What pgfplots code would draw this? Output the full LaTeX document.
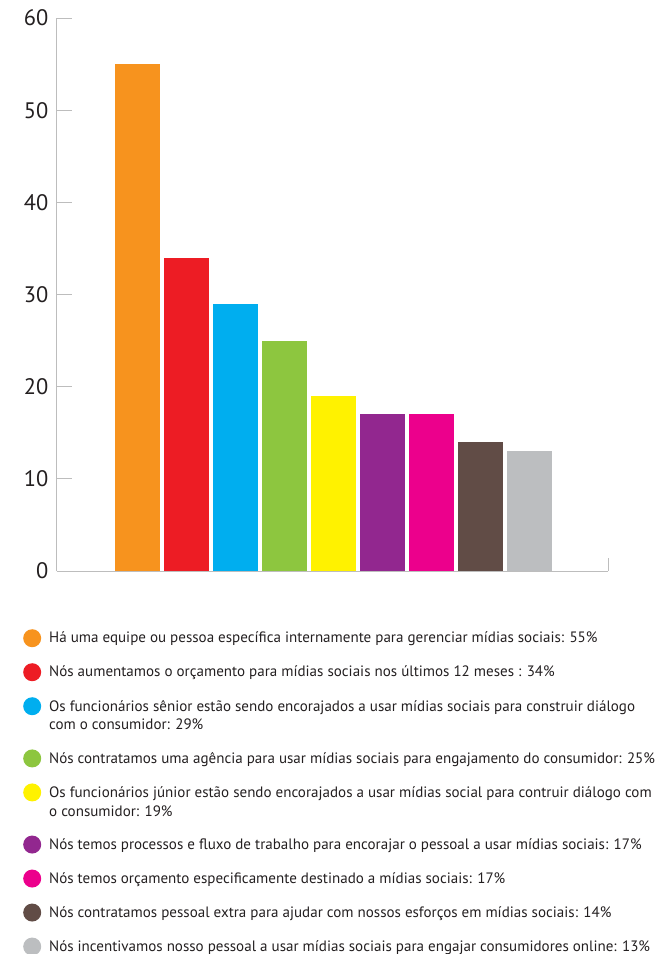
\documentclass[border=0pt]{standalone}
\usepackage{pgfplots}
\pgfplotsset{compat=1.18}
\usepackage{fontspec}
\setmainfont{PT Sans}
\definecolor{cOrange}{HTML}{F7931E}
\definecolor{cRed}{HTML}{ED1C24}
\definecolor{cCyan}{HTML}{00AEEF}
\definecolor{cGreen}{HTML}{8DC63F}
\definecolor{cYellow}{HTML}{FFF200}
\definecolor{cPurple}{HTML}{92278F}
\definecolor{cMagenta}{HTML}{EC008C}
\definecolor{cBrown}{HTML}{614C46}
\definecolor{cGray}{HTML}{BCBEC0}
\definecolor{axgray}{HTML}{BDBDBD}
\definecolor{txt}{HTML}{231F20}
\pgfplotsset{
  circ/.style={legend image code/.code={\fill[#1] (0bp,0bp) circle (9bp);}},
  circtwo/.style={legend image code/.code={\fill[#1] (0bp,9.5bp) circle (9bp);}},
}
\begin{document}
\begin{tikzpicture}
\useasboundingbox (0,0) rectangle (663bp,-954bp);
\begin{axis}[
  at={(57bp,-571bp)}, anchor=south west,
  scale only axis, width=551bp, height=553bp,
  ybar, bar width=45bp, bar shift=0pt,
  xmin=-0.643, xmax=10.602, ymin=0, ymax=60,
  axis x line*=bottom, axis y line*=left,
  axis line style={draw=axgray, line width=1bp},
  xtick=\empty,
  ytick={0,10,20,30,40,50,60},
  tick align=inside, major tick length=15bp,
  tick style={draw=axgray, line width=1bp},
  /pgf/number format/assume math mode=true,
  yticklabel style={font=\fontsize{22.5}{22.5}\selectfont, text=txt, inner sep=0pt, xshift=-8.5bp},
  legend style={at={(-0.0617,-0.1049)}, anchor=north west, draw=none, fill=none,
    inner sep=0pt, font=\fontsize{15.1}{19}\selectfont, text=txt,
    row sep=16bp, column sep=6bp,
    cells={anchor=west, align=left, inner sep=0pt}},
  clip=false,
]
\addplot[fill=cOrange, draw=none, circ=cOrange] coordinates {(1,55)};
\addlegendentry{Há uma equipe ou pessoa específica internamente para gerenciar mídias sociais: 55\%}
\addplot[fill=cRed, draw=none, circ=cRed] coordinates {(2,34)};
\addlegendentry{Nós aumentamos o orçamento para mídias sociais nos últimos 12 meses : 34\%}
\addplot[fill=cCyan, draw=none, circtwo=cCyan] coordinates {(3,29)};
\addlegendentry{Os funcionários sênior estão sendo encorajados a usar mídias sociais para construir diálogo\\com o consumidor: 29\%}
\addplot[fill=cGreen, draw=none, circ=cGreen] coordinates {(4,25)};
\addlegendentry{Nós contratamos uma agência para usar mídias sociais para engajamento do consumidor: 25\%}
\addplot[fill=cYellow, draw=none, circtwo=cYellow] coordinates {(5,19)};
\addlegendentry{Os funcionários júnior estão sendo encorajados a usar mídias social para contruir diálogo com\\o consumidor: 19\%}
\addplot[fill=cPurple, draw=none, circ=cPurple] coordinates {(6,17)};
\addlegendentry{Nós temos processos e fluxo de trabalho para encorajar o pessoal a usar mídias sociais: 17\%}
\addplot[fill=cMagenta, draw=none, circ=cMagenta] coordinates {(7,17)};
\addlegendentry{Nós temos orçamento especificamente destinado a mídias sociais: 17\%}
\addplot[fill=cBrown, draw=none, circ=cBrown] coordinates {(8,14)};
\addlegendentry{Nós contratamos pessoal extra para ajudar com nossos esforços em mídias sociais: 14\%}
\addplot[fill=cGray, draw=none, circ=cGray] coordinates {(9,13)};
\addlegendentry{Nós incentivamos nosso pessoal a usar mídias sociais para engajar consumidores online: 13\%}
\draw[axgray, line width=1bp] (axis cs:10.602,0) -- ([yshift=13bp]axis cs:10.602,0);
\end{axis}
\end{tikzpicture}
\end{document}
